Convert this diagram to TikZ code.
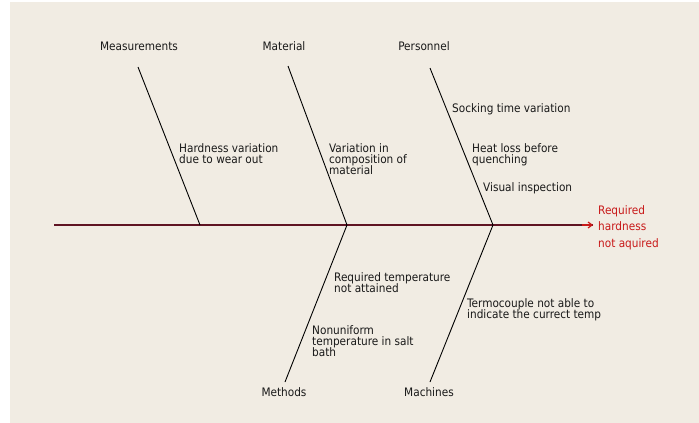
\documentclass[tikz,border=0pt]{standalone}
\usepackage{fontspec}
\setmainfont{DejaVu Sans Condensed}
\usetikzlibrary{arrows.meta}
\definecolor{bgc}{RGB}{241,236,227}
\definecolor{spinec}{RGB}{95,20,35}
\definecolor{effc}{RGB}{200,25,25}
\begin{document}
\begin{tikzpicture}[x=1pt,y=-1pt,
  bone/.style={draw=black, line width=0.9pt},
  cat/.style={font=\fontsize{11.7}{12}\selectfont, inner sep=0pt},
  cause/.style={font=\fontsize{11.7}{11.4}\selectfont, inner sep=0pt, anchor=north west, align=left},
  every node/.style={text=black!90}]
\useasboundingbox (0,0) rectangle (699,423);
\fill[white] (0,0) rectangle (699,423);
\fill[bgc] (10,2) rectangle (699,423);
% spine
\coordinate (tail) at (54,225);
\coordinate (j1) at (347,225);
\coordinate (j2) at (493,225);
\coordinate (head) at (593,225);
\node[cause, text=effc, font=\fontsize{11.7}{16.8}\selectfont] (effect) at (598,205) {Required\\hardness\\not aquired};
\draw[draw=spinec, line width=1.2pt] (tail) -- (head);
\draw[draw=effc, line width=1.2pt, -{Straight Barb[length=4pt,width=6pt]}] (582,225) -- (head);
% top bones
\coordinate (m1) at (200,225);
\coordinate (t1) at (138,67);
\coordinate (t2) at (288,66);
\coordinate (t3) at (430,68);
\draw[bone] (t1) -- (m1);
\draw[bone] (t2) -- (j1);
\draw[bone] (t3) -- (j2);
% bottom bones
\coordinate (b1) at (285,382);
\coordinate (b2) at (430,382);
\draw[bone] (j1) -- (b1);
\draw[bone] (j2) -- (b2);
% category labels
\node[cat] (meas) at (139,46) {Measurements};
\node[cat] (mat) at (284,46) {Material};
\node[cat] (pers) at (424,46) {Personnel};
\node[cat] (meth) at (284,392) {Methods};
\node[cat] (mach) at (429,392) {Machines};
% causes
\node[cause] (c1) at (179,143) {Hardness variation\\due to wear out};
\node[cause] (c2) at (329,143) {Variation in\\composition of\\material};
\node[cause] (c3) at (452,103) {Socking time variation};
\node[cause] (c4) at (472,143) {Heat loss before\\quenching};
\node[cause] (c5) at (483,182) {Visual inspection};
\node[cause] (c6) at (334,272) {Required temperature\\not attained};
\node[cause] (c7) at (312,325) {Nonuniform\\temperature in salt\\bath};
\node[cause] (c8) at (467,298) {Termocouple not able to\\indicate the currect temp};
\end{tikzpicture}
\end{document}
